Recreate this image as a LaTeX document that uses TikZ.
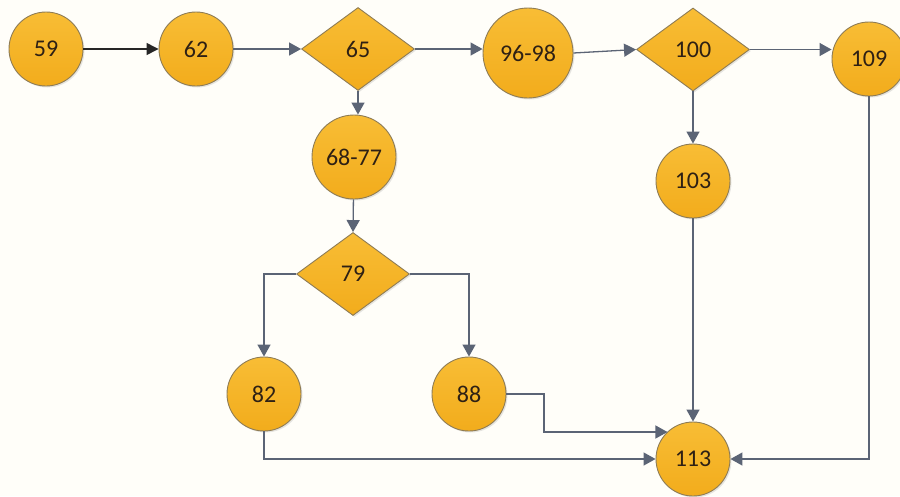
\documentclass[tikz,border=0pt]{standalone}
\usepackage{fontspec}
\setmainfont{Carlito}
\usetikzlibrary{shapes.geometric,arrows.meta,shadows}
\definecolor{nodetop}{HTML}{F8BD35}
\definecolor{nodebot}{HTML}{F2AC1C}
\definecolor{nodeline}{HTML}{8E7C55}
\definecolor{edgecol}{HTML}{5B6475}
\definecolor{txtcol}{HTML}{2E2014}
\definecolor{bgcol}{HTML}{FFFEF9}
\tikzset{
  base/.style={draw=nodeline, line width=0.9pt, top color=nodetop, bottom color=nodebot,
    text=txtcol, font=\fontsize{24}{27}\selectfont, inner sep=0pt,
    drop shadow={opacity=0.2, shadow xshift=1.5pt, shadow yshift=-1.5pt}},
  circ/.style={base, circle, minimum size=#1},
  circ/.default=74pt,
  dia/.style={base, diamond, minimum width=113pt, minimum height=83pt},
  edge/.style={draw=edgecol, line width=1.3pt, -{Triangle[length=12pt,width=13pt]}},
  blackedge/.style={edge, draw=black!85, -{Triangle[length=12pt,width=12pt,fill=black!85]}}
}
\begin{document}
\begin{tikzpicture}[x=1pt,y=-1pt]
\fill[bgcol] (0,0) rectangle (900,496);
\useasboundingbox (0,0) rectangle (900,496);
\node[circ] (n59) at (46,49) {59};
\node[circ] (n62) at (196,49) {62};
\node[dia] (n65) at (358,49) {65};
\node[circ=90pt] (n9698) at (528,53) {96-98};
\node[dia] (n100) at (693,49.5) {100};
\node[circ] (n109) at (869,59) {109};
\node[circ=84pt] (n6877) at (354,157) {68-77};
\node[circ] (n103) at (693,181) {103};
\node[dia] (n79) at (353,274) {79};
\node[circ] (n82) at (264,394) {82};
\node[circ] (n88) at (469,394) {88};
\node[circ] (n113) at (693,459) {113};
\coordinate (c88) at (544,432);
\draw[blackedge] (n59) -- (n62);
\draw[edge] (n62) -- (n65.west);
\draw[edge] (n65.east) -- (n65.east -| n9698.west);
\draw[edge] (n9698.east) -- (n100.west);
\draw[edge] (n100.east) -- (n100.east -| n109.west);
\draw[edge] (n65.south) -- (n65.south |- n6877.north);
\draw[edge] (n6877) -- (n79.north);
\draw[edge] (n100.south) -- (n103);
\draw[edge] (n79.west) -| (n82.north);
\draw[edge] (n79.east) -| (n88.north);
\draw[edge] (n88.east) -| (c88) -- (c88 -| n113.133);
\draw[edge] (n82.south) |- (n113.west);
\draw[edge] (n103) -- (n113);
\draw[edge] (n109.south) |- (n113.east);
\end{tikzpicture}
\end{document}
